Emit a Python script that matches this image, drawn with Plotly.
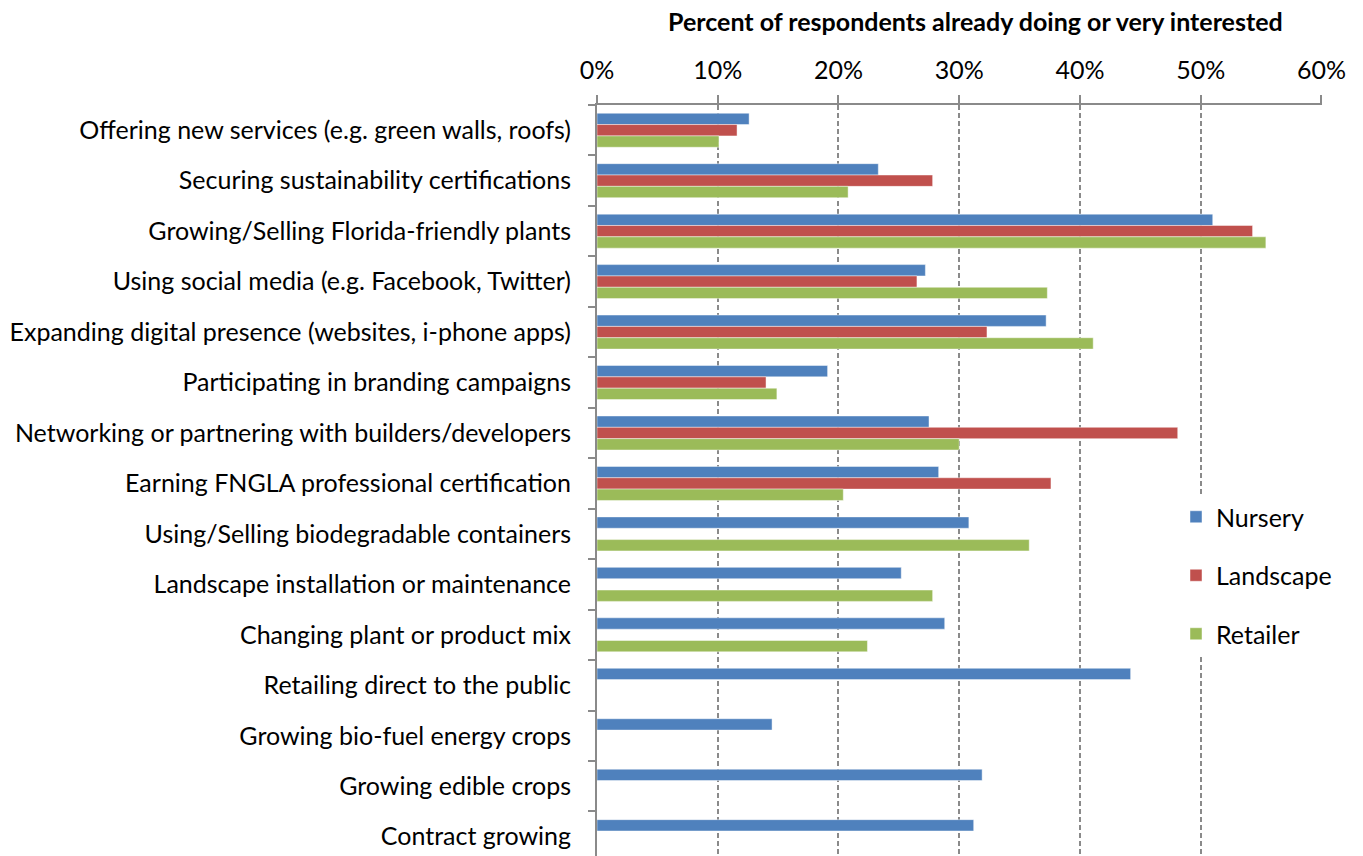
import plotly.graph_objects as go

# Activities surveyed, top to bottom
categories = [
    "Offering new services (e.g. green walls, roofs)",
    "Securing sustainability certifications",
    "Growing/Selling Florida-friendly plants",
    "Using social media (e.g. Facebook, Twitter)",
    "Expanding digital presence (websites, i-phone apps)",
    "Participating in branding campaigns",
    "Networking or partnering with builders/developers",
    "Earning FNGLA professional certification",
    "Using/Selling biodegradable containers",
    "Landscape installation or maintenance",
    "Changing plant or product mix",
    "Retailing direct to the public",
    "Growing bio-fuel energy crops",
    "Growing edible crops",
    "Contract growing",
]

# Share of respondents already doing or very interested (fraction)
nursery = [0.126, 0.233, 0.510, 0.272, 0.372, 0.191, 0.275, 0.283,
           0.308, 0.252, 0.288, 0.442, 0.145, 0.319, 0.312]
landscape = [0.116, 0.278, 0.543, 0.265, 0.323, 0.140, 0.481, 0.376,
             None, None, None, None, None, None, None]
retailer = [0.101, 0.208, 0.554, 0.373, 0.411, 0.149, 0.300, 0.204,
            0.358, 0.278, 0.224, None, None, None, None]

x_ticks = [0, 0.1, 0.2, 0.3, 0.4, 0.5, 0.6]

series = [
    ("Nursery", nursery, "#4F81BD"),
    ("Landscape", landscape, "#C0504D"),
    ("Retailer", retailer, "#9BBB59"),
]

FONT = "Lato, Calibri, sans-serif"
FS = 25
W, H = 1363, 856

fig = go.Figure()
for name, vals, color in series:
    fig.add_trace(go.Bar(
        y=categories,
        x=vals,
        name=name,
        orientation="h",
        legendgroup=name,
        marker=dict(color=color, line=dict(color="rgba(255,255,255,0.45)", width=1)),
        hoverinfo="x+y+name",
    ))

left, right, top = 596.5, 1321.7, 105
band = 50.46
y_bottom = -0.5 + (H - top) / band

fig.update_layout(
    width=W,
    height=H,
    margin=dict(l=left, r=W - right, t=top, b=0, pad=0, autoexpand=False),
    paper_bgcolor="white",
    plot_bgcolor="white",
    barmode="group",
    bargap=0.326,
    bargroupgap=0,
    font=dict(family=FONT, size=FS, color="#000000"),
    showlegend=True,
    legend=dict(
        xref="container", yref="container",
        x=1176 / W, y=1 - 494 / H,
        xanchor="left", yanchor="top",
        bgcolor="white",
        traceorder="grouped",
        tracegroupgap=23,
        font=dict(family=FONT, size=FS, color="#000000"),
    ),
    xaxis=dict(
        side="top",
        range=[0, 0.6005],
        tickvals=x_ticks,
        tickformat=".0%",
        showgrid=True,
        gridcolor="#8A8A8A",
        gridwidth=2,
        griddash="5px,3px",
        showline=True,
        linecolor="#8A8A8A",
        linewidth=2,
        ticks="outside",
        ticklen=8,
        tickwidth=2,
        tickcolor="#8A8A8A",
        zeroline=False,
        tickfont=dict(family=FONT, size=FS, color="#000000"),
        ticklabelstandoff=6,
    ),
    yaxis=dict(
        type="category",
        categoryorder="array",
        categoryarray=categories,
        range=[y_bottom, -0.5],
        showgrid=False,
        showline=True,
        linecolor="#8A8A8A",
        linewidth=2,
        ticks="outside",
        ticklen=7,
        tickwidth=2,
        tickcolor="#8A8A8A",
        tickson="boundaries",
        zeroline=False,
        tickfont=dict(family=FONT, size=FS, color="#000000"),
        ticklabelstandoff=19,
    ),
    annotations=[dict(
        text="<b>Percent of respondents already doing or very interested</b>",
        xref="paper", yref="paper",
        x=(975 - left) / (right - left), y=1,
        xanchor="center", yanchor="bottom",
        yshift=(top - 38),
        showarrow=False,
        font=dict(family=FONT, size=FS, color="#000000"),
    )],
)

fig.write_html("out.html")
